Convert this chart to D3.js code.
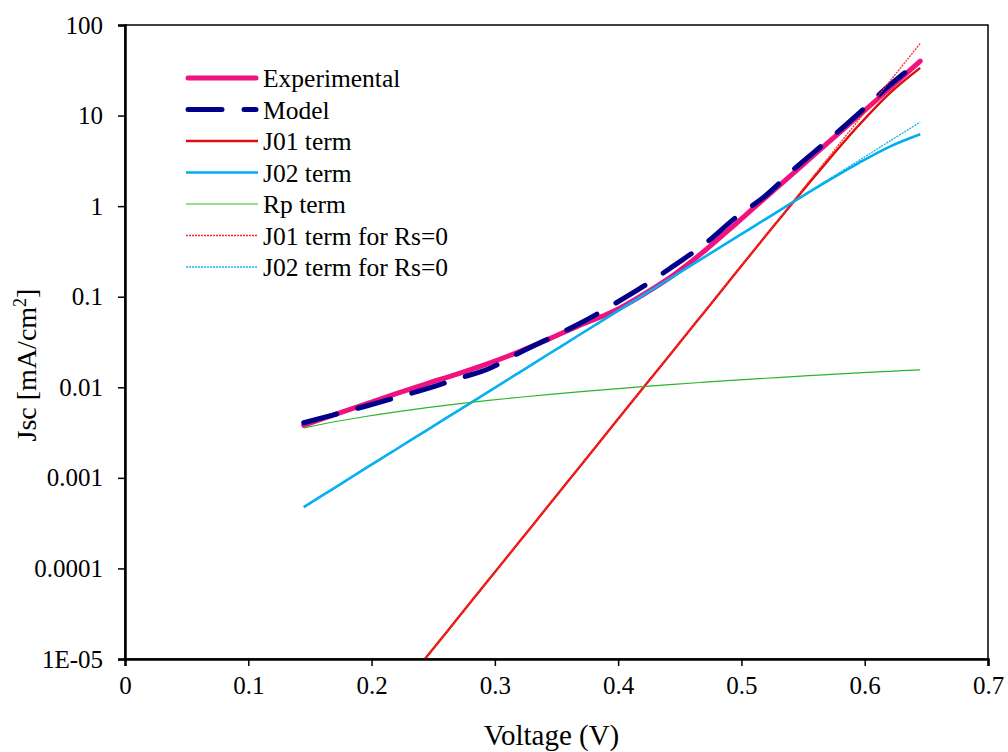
<!DOCTYPE html>
<html lang="en">
<head>
<meta charset="UTF-8">
<title>Jsc vs Voltage</title>
<style>
  * { margin: 0; box-sizing: border-box; }
  body { width: 1008px; height: 752px; background: #fff; overflow: hidden; }
  svg { display: block; }
  svg text { font-family: "Liberation Serif", "Times New Roman", serif; fill: #000; }
</style>
</head>
<body>
<svg id="chart" width="1008" height="752"></svg>

<script src="https://cdn.jsdelivr.net/npm/d3@7/dist/d3.min.js"></script>
<script>
// data
const voltage = [0.145, 0.17, 0.195, 0.22, 0.245, 0.27, 0.295, 0.32, 0.345, 0.37, 0.395,
                 0.42, 0.445, 0.47, 0.495, 0.52, 0.545, 0.57, 0.595, 0.62, 0.645];

const experimental = [0.0038, 0.0050, 0.0065, 0.0085, 0.0110, 0.0141, 0.0184, 0.0248, 0.0347, 0.049, 0.0676,
                      0.105, 0.174, 0.32, 0.63, 1.26, 2.5, 5.0, 9.9, 19.9, 39.8];
const model = [0.00406, 0.0050, 0.00618, 0.0077, 0.00966, 0.01245, 0.0160, 0.0241, 0.0352, 0.0516, 0.0804,
               0.129, 0.219, 0.38, 0.741, 1.32, 2.73, 5.28, 10.5, 21.5, 40.5];
const j01 = [2.17e-7, 5.74e-7, 1.52e-6, 4.03e-6, 1.07e-5, 2.83e-5, 7.48e-5, 1.98e-4, 5.25e-4, 1.39e-3, 3.68e-3,
             9.74e-3, 0.0257, 0.0680, 0.180, 0.476, 1.24, 3.16, 7.76, 17.5, 33.6];
const j02 = [4.76e-4, 7.77e-4, 1.27e-3, 2.07e-3, 3.37e-3, 5.50e-3, 8.97e-3, 0.01464, 0.0239, 0.0390, 0.0634,
             0.1034, 0.168, 0.274, 0.446, 0.725, 1.18, 1.90, 2.99, 4.52, 6.21];
const rpTerm = [0.00356, 0.00416, 0.00476, 0.00536, 0.00596, 0.00656, 0.00716, 0.00776, 0.00836, 0.00896, 0.00956,
                0.01017, 0.01077, 0.01138, 0.01199, 0.01259, 0.0132, 0.0138, 0.0144, 0.0150, 0.0156];
const j01Rs0 = [2.17e-7, 5.74e-7, 1.52e-6, 4.03e-6, 1.07e-5, 2.83e-5, 7.48e-5, 1.98e-4, 5.25e-4, 1.39e-3, 3.68e-3,
                9.75e-3, 0.0258, 0.0684, 0.181, 0.480, 1.27, 3.37, 8.91, 23.6, 62.5];
const j02Rs0 = [4.76e-4, 7.77e-4, 1.27e-3, 2.07e-3, 3.37e-3, 5.50e-3, 8.97e-3, 0.01464, 0.0239, 0.0390, 0.0635,
                0.1036, 0.169, 0.276, 0.450, 0.734, 1.20, 1.95, 3.18, 5.19, 8.47];

const xTicks = [0, 0.1, 0.2, 0.3, 0.4, 0.5, 0.6, 0.7];
const yTicks = [100, 10, 1, 0.1, 0.01, 0.001, 0.0001, 0.00001];
const yTickLabels = ["100", "10", "1", "0.1", "0.01", "0.001", "0.0001", "1E-05"];

// series in drawing order
const series = [
  { name: "Experimental",       values: experimental, color: "#f0137f", width: 5,   dash: null,    cap: "round" },
  { name: "Model",              values: model,        color: "#00008b", width: 5,   dash: "34,22", cap: "round" },
  { name: "J01 term",           values: j01,          color: "#e00c0c", width: 2.4, dash: null,    cap: "butt" },
  { name: "J02 term",           values: j02,          color: "#00aeef", width: 2.6, dash: null,    cap: "butt" },
  { name: "Rp term",            values: rpTerm,       color: "#2cb52c", width: 1.2, dash: null,    cap: "butt" },
  { name: "J01 term for Rs=0",  values: j01Rs0,       color: "#ff2a2a", width: 1.3, dash: "2,1",   cap: "butt" },
  { name: "J02 term for Rs=0",  values: j02Rs0,       color: "#10b4f0", width: 1.3, dash: "2,1",   cap: "butt" }
];

const m = { left: 125, right: 988, top: 25, bottom: 659 };

const svg = d3.select("#chart");

const x = d3.scaleLinear().domain([0, 0.7]).range([m.left, m.right]);
const y = d3.scaleLog().domain([1e-5, 100]).range([m.bottom, m.top]);

svg.append("defs").append("clipPath").attr("id", "plotClip")
  .append("rect")
  .attr("x", m.left).attr("y", m.top)
  .attr("width", m.right - m.left).attr("height", m.bottom - m.top);

// plot border (top / right)
svg.append("rect")
  .attr("x", m.left).attr("y", m.top)
  .attr("width", m.right - m.left).attr("height", m.bottom - m.top)
  .attr("fill", "none").attr("stroke", "#000").attr("stroke-width", 1.5);

// lines
const line = d3.line()
  .x(d => x(d[0]))
  .y(d => y(d[1]))
  .curve(d3.curveCatmullRom);

const plot = svg.append("g").attr("clip-path", "url(#plotClip)");

plot.selectAll("path")
  .data(series)
  .enter().append("path")
  .attr("d", s => line(voltage.map((v, i) => [v, s.values[i]])))
  .attr("fill", "none")
  .attr("stroke", s => s.color)
  .attr("stroke-width", s => s.width)
  .attr("stroke-dasharray", s => s.dash)
  .attr("stroke-linecap", s => s.cap)
  .attr("stroke-linejoin", "round");

// axes
const xAxis = svg.append("g")
  .attr("transform", `translate(0,${m.bottom})`)
  .call(d3.axisBottom(x).tickValues(xTicks).tickFormat(d3.format("")).tickSizeOuter(0).tickSize(7).tickPadding(10));

const yAxis = svg.append("g")
  .attr("transform", `translate(${m.left},0)`)
  .call(d3.axisLeft(y).tickValues(yTicks).tickFormat((d, i) => yTickLabels[i]).tickSizeOuter(0).tickSize(7).tickPadding(15));

[xAxis, yAxis].forEach(g => {
  g.attr("font-family", null).attr("font-size", null);
  g.select(".domain").attr("stroke", "#000").attr("stroke-width", 2.5);
  g.selectAll(".tick line").attr("stroke", "#000").attr("stroke-width", 1.5);
  g.selectAll(".tick text").attr("fill", "#000").style("font-size", "25px");
});

// axis titles
svg.append("text")
  .attr("x", (m.left + m.right) / 2 - 5)
  .attr("y", 745)
  .attr("text-anchor", "middle")
  .style("font-size", "29px")
  .text("Voltage (V)");

const yTitle = svg.append("text")
  .attr("transform", "translate(36,365) rotate(-90)")
  .attr("text-anchor", "middle")
  .style("font-size", "28px");
yTitle.append("tspan").text("Jsc [mA/cm");
yTitle.append("tspan").attr("dy", -10).style("font-size", "18px").text("2");
yTitle.append("tspan").attr("dy", 10).text("]");

// legend
const legend = svg.append("g").attr("transform", "translate(0,78)");
const rowH = 31.5;

const item = legend.selectAll("g")
  .data(series)
  .enter().append("g")
  .attr("transform", (d, i) => `translate(0,${i * rowH})`);

item.append("line")
  .attr("x1", s => s.cap === "round" ? 188 : 186)
  .attr("x2", s => s.cap === "round" ? 256 : 258)
  .attr("stroke", s => s.color)
  .attr("stroke-width", s => s.width)
  .attr("stroke-dasharray", s => s.dash)
  .attr("stroke-linecap", s => s.cap);

item.append("text")
  .attr("x", 263)
  .attr("y", 9)
  .style("font-size", "25.5px")
  .text(s => s.name);
</script>
</body>
</html>
